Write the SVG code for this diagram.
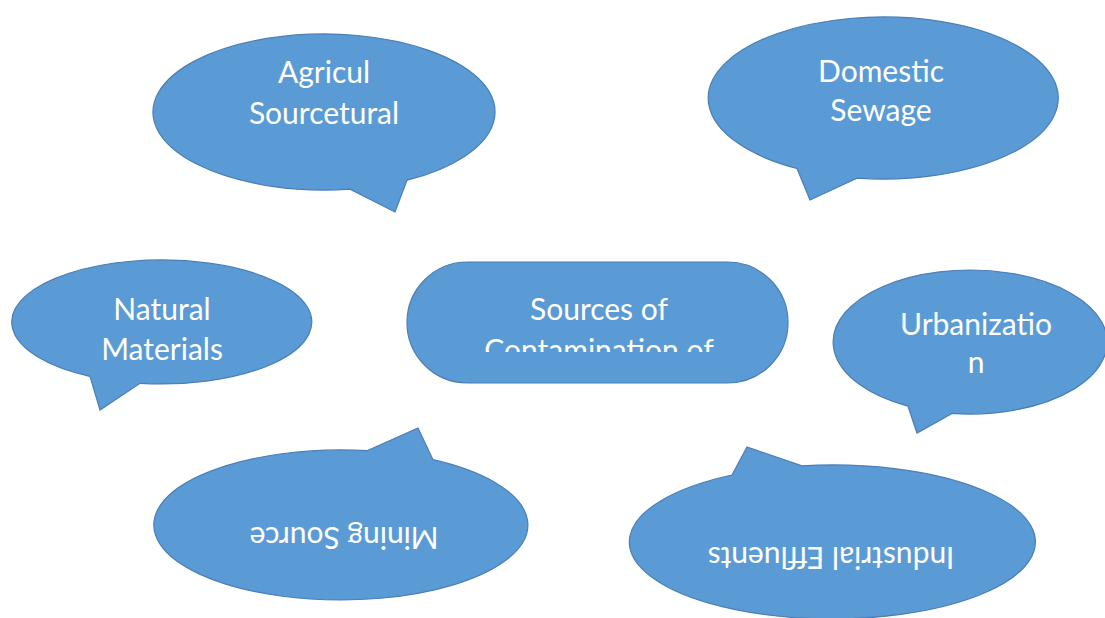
<svg xmlns="http://www.w3.org/2000/svg" width="1105" height="618" viewBox="0 0 1105 618">
<defs>
<style>
.b{fill:#5B9BD5;stroke:#4A7EB5;stroke-width:1.2}
.t{font-family:Lato,"Open Sans",sans-serif;font-size:30px;fill:#ffffff;text-anchor:middle}
</style>
<clipPath id="cc"><rect x="407" y="262" width="381" height="90"/></clipPath>
</defs>
<rect width="1105" height="618" fill="#ffffff"/>
<g id="connectors"/>
<g id="agricultural">
<path class="b" d="M350,189.1 L395,212 L407,180.2 A171,78 0 1 0 350,189.1 Z"/>
<text class="t" x="324" y="83">Agricul</text>
<text class="t" x="324" y="124">Sourcetural</text>
</g>
<g id="domestic">
<path class="b" d="M797,168.5 L810,200 L857,178.1 A175,81 0 1 0 797,168.5 Z"/>
<text class="t" x="881" y="82">Domestic</text>
<text class="t" x="881" y="121">Sewage</text>
</g>
<g id="natural">
<path class="b" d="M90,376.4 L100,410 L140,383.3 A150,62 0 1 0 90,376.4 Z"/>
<text class="t" x="162" y="320">Natural</text>
<text class="t" x="162" y="360">Materials</text>
</g>
<g id="center">
<rect class="b" x="407" y="262" width="381" height="121" rx="60.5" ry="60.5"/>
<g clip-path="url(#cc)">
<text class="t" x="599" y="320">Sources of</text>
<text class="t" x="599" y="361">Contamination of</text>
</g>
</g>
<g id="urbanization">
<path class="b" d="M908,406.2 L917,433 L952,413.4 A137,72 0 1 0 908,406.2 Z"/>
<text class="t" x="976" y="335">Urbanizatio</text>
<text class="t" x="976" y="373">n</text>
</g>
<g id="mining">
<path class="b" d="M367,450.7 L418,428 L433,459.7 A187,75 0 1 1 367,450.7 Z"/>
<text class="t" x="344" y="547" transform="rotate(180 344 537)">Mining Source</text>
</g>
<g id="industrial">
<path class="b" d="M732,475 L747,447 L802,465.8 A203,77 0 1 1 732,475 Z"/>
<text class="t" x="831" y="567" transform="rotate(180 831 557)">Industrial Effluents</text>
</g>
</svg>
